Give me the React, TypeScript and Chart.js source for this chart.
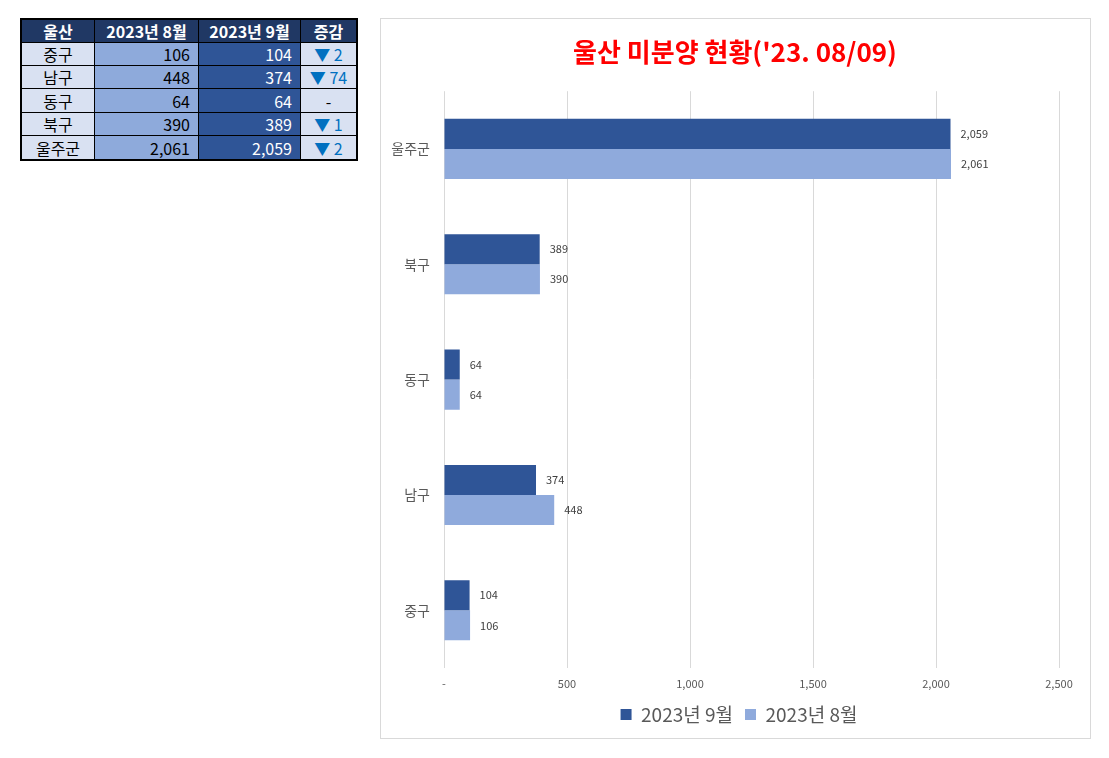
import React, { useEffect, useRef } from 'react';
import { Chart, registerables } from 'chart.js';

Chart.register(...registerables);

const FONT = '"Noto Sans CJK KR", "Noto Sans", sans-serif';

// Chart data (top to bottom)
const categories = ['울주군', '북구', '동구', '남구', '중구'];
const sep2023 = [2059, 389, 64, 374, 104];
const aug2023 = [2061, 390, 64, 448, 106];
const seriesLabels = ['2023년 9월', '2023년 8월'];
const xMin = 0;
const xMax = 2500;
const xStep = 500;
const titleText = "울산 미분양 현황('23. 08/09)";

// Table data
const tableHeader = ['울산', '2023년 8월', '2023년 9월', '증감'];
const tableDistricts = ['중구', '남구', '동구', '북구', '울주군'];
const tableAug = [106, 448, 64, 390, 2061];
const tableSep = [104, 374, 64, 389, 2059];
const tableDiff = ['▼\u00a02', '▼\u00a074', '-', '▼\u00a01', '▼\u00a02'];

const fmt = (v: number) => v.toLocaleString('en-US');

const dataLabelPlugin = {
  id: 'dataLabels',
  afterDatasetsDraw(chart: any) {
    const ctx = chart.ctx;
    ctx.save();
    ctx.font = `11px ${FONT}`;
    ctx.fillStyle = '#404040';
    ctx.textAlign = 'left';
    ctx.textBaseline = 'middle';
    chart.data.datasets.forEach((ds: any, i: number) => {
      const meta = chart.getDatasetMeta(i);
      meta.data.forEach((bar: any, j: number) => {
        ctx.fillText(fmt(ds.data[j]), bar.x + 10, bar.y);
      });
    });
    ctx.restore();
  },
};

// Center title and legend on the whole chart box (as in the reference)
const centerBlocksPlugin = {
  id: 'centerBlocks',
  afterLayout(chart: any) {
    if (chart.legend) chart.legend.left += 38;
    if (chart.titleBlock) chart.titleBlock.left += 30;
  },
};

function DataTable() {
  const colW = [72, 103, 101, 55];
  const rowH = [22, 22, 22, 23, 22, 23];
  const cell = (content: React.ReactNode, bg: string, color: string, align: string, bold = false, size = 16, key?: string) => (
    <div
      key={key}
      style={{
        background: bg,
        color,
        display: 'flex',
        alignItems: 'center',
        justifyContent: align,
        paddingRight: align === 'flex-end' ? 8 : 0,
        fontWeight: bold ? 700 : 400,
        fontSize: size,
        fontFamily: FONT,
        whiteSpace: 'nowrap',
        overflow: 'hidden',
      }}
    >
      {content}
    </div>
  );
  const cells: React.ReactNode[] = [];
  tableHeader.forEach((h, i) => cells.push(cell(h, '#203864', '#ffffff', 'center', true, 16, 'h' + i)));
  tableDistricts.forEach((d, r) => {
    cells.push(cell(d, '#d9e1f2', '#000000', 'center', false, 16, 'd' + r));
    cells.push(cell(fmt(tableAug[r]), '#8eaadb', '#000000', 'flex-end', false, 16, 'a' + r));
    cells.push(cell(fmt(tableSep[r]), '#2f5597', '#ffffff', 'flex-end', false, 16, 's' + r));
    cells.push(
      cell(tableDiff[r], '#d9e1f2', tableDiff[r] === '-' ? '#000000' : '#0070c0', 'center', false, 16, 'x' + r)
    );
  });
  return (
    <div
      style={{
        position: 'absolute',
        left: 20,
        top: 18,
        border: '2px solid #000',
        background: '#000',
        display: 'grid',
        gridTemplateColumns: colW.map((w) => w + 'px').join(' '),
        gridTemplateRows: rowH.map((h) => h + 'px').join(' '),
        gap: 1,
      }}
    >
      {cells}
    </div>
  );
}

function BarChart() {
  const ref = useRef<HTMLCanvasElement | null>(null);
  useEffect(() => {
    if (!ref.current) return;
    const chart = new Chart(ref.current, {
      type: 'bar',
      data: {
        labels: categories,
        datasets: [
          {
            label: seriesLabels[0],
            data: sep2023,
            backgroundColor: '#2f5597',
            categoryPercentage: 0.521,
            barPercentage: 1.0,
          },
          {
            label: seriesLabels[1],
            data: aug2023,
            backgroundColor: '#8faadc',
            categoryPercentage: 0.521,
            barPercentage: 1.0,
          },
        ],
      },
      options: {
        indexAxis: 'y',
        responsive: false,
        animation: false,
        layout: { padding: { left: 0, right: 31, top: 0, bottom: 4 } },
        plugins: {
          title: {
            display: true,
            text: titleText,
            color: '#ff0000',
            font: { family: FONT, size: 26, weight: 'bold' },
            padding: { top: 18, bottom: 23 },
          },
          legend: {
            position: 'bottom',
            labels: {
              color: '#595959',
              font: { family: FONT, size: 19 },
              boxWidth: 11,
              boxHeight: 11,
              padding: 12,
            },
          },
          tooltip: { enabled: false },
        },
        scales: {
          x: {
            min: xMin,
            max: xMax,
            ticks: {
              stepSize: xStep,
              color: '#595959',
              font: { family: FONT, size: 11 },
              padding: 9,
              callback: (v: any) => (Number(v) === 0 ? '-' : fmt(Number(v))),
            },
            grid: { color: '#d9d9d9', drawTicks: false },
            border: { display: false },
            afterFit: (scale: any) => {
              scale.height = 25;
            },
          },
          y: {
            ticks: {
              color: '#595959',
              font: { family: FONT, size: 14 },
              padding: 14,
            },
            grid: { display: false, drawTicks: false },
            border: { display: false },
            afterFit: (scale: any) => {
              scale.width = 63;
            },
          },
        },
      },
      plugins: [dataLabelPlugin, centerBlocksPlugin],
    });
    return () => chart.destroy();
  }, []);
  return (
    <div
      style={{
        position: 'absolute',
        left: 380,
        top: 18,
        width: 709,
        height: 719,
        border: '1px solid #d9d9d9',
        background: '#fff',
      }}
    >
      <canvas ref={ref} width={709} height={719} style={{ display: 'block' }} />
    </div>
  );
}

export default function App() {
  return (
    <div>
      <DataTable />
      <BarChart />
    </div>
  );
}
